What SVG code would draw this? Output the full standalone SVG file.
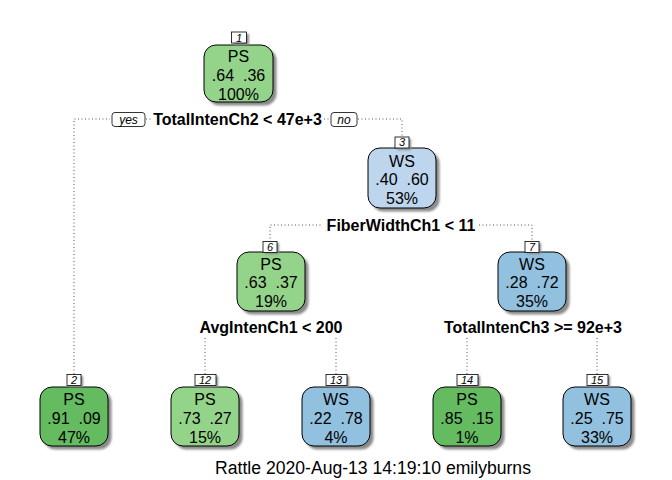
<svg xmlns="http://www.w3.org/2000/svg" width="672" height="480" viewBox="0 0 672 480">
<defs>
<filter id="blur" x="-20%" y="-20%" width="140%" height="140%"><feGaussianBlur stdDeviation="1.2"/></filter>
<style>
.box{stroke:#000;stroke-width:1}
.g1{fill:#94D48A}.g2{fill:#64BB60}.b1{fill:#BED5EE}.b2{fill:#92C0DF}
.sh{fill:#8a8a8a;filter:url(#blur)}
.t{font-family:"Liberation Sans",Arial,sans-serif;font-size:16px;fill:#000;text-anchor:middle}
.num{font-family:"Liberation Sans",Arial,sans-serif;font-size:11px;font-style:italic;fill:#000;text-anchor:middle}
.nb{fill:#fff;stroke:#000;stroke-width:0.8}
.split{font-family:"Liberation Sans",Arial,sans-serif;font-size:16px;font-weight:bold;fill:#000;text-anchor:middle}
.yn{font-family:"Liberation Sans",Arial,sans-serif;font-size:12px;font-style:italic;fill:#000;text-anchor:middle}
.ln{fill:none;stroke:#555;stroke-width:1;stroke-dasharray:1 2.5}
.cap{font-family:"Liberation Sans",Arial,sans-serif;font-size:17.6px;fill:#000;text-anchor:middle}
</style>
</defs>
<rect width="672" height="480" fill="#fff"/>

<g id="connectors">
<path class="ln" d="M74,374 V119 H110"/>
<path class="ln" d="M146,119 H151"/>
<path class="ln" d="M324,119 H330"/>
<path class="ln" d="M358,119 H402 V137"/>
<path class="ln" d="M270,242 V225 H323"/>
<path class="ln" d="M479,225 H532 V242"/>
<path class="ln" d="M205,338 V375"/>
<path class="ln" d="M336,338 V375"/>
<path class="ln" d="M467,338 V375"/>
<path class="ln" d="M597,338 V375"/>
</g>

<g id="splits">
<rect class="nb" x="112" y="112.5" width="33" height="14" rx="3"/>
<text class="yn" x="128.5" y="123.5">yes</text>
<text class="split" x="237.5" y="125">TotalIntenCh2 &lt; 47e+3</text>
<rect class="nb" x="331" y="112.5" width="26" height="14" rx="3"/>
<text class="yn" x="344" y="123.5">no</text>
<text class="split" x="401" y="231">FiberWidthCh1 &lt; 11</text>
<text class="split" x="271" y="333">AvgIntenCh1 &lt; 200</text>
<text class="split" x="533" y="333">TotalIntenCh3 &gt;= 92e+3</text>
</g>

<g id="node1">
<rect class="sh" x="207.5" y="48.5" width="69" height="57" rx="12"/>
<rect class="box g1" x="204" y="45" width="69" height="57" rx="12"/>
<rect class="sh" x="234" y="34" width="15" height="11"/>
<rect class="nb" x="231.5" y="32" width="15" height="11"/>
<text class="num" x="239" y="41.5">1</text>
<text class="t" x="238.5" y="62">PS</text>
<text class="t" x="238.5" y="81" xml:space="preserve">.64  .36</text>
<text class="t" x="238.5" y="100">100%</text>
</g>

<g id="node2">
<rect class="sh" x="43.5" y="390.5" width="68" height="59" rx="12"/>
<rect class="box g2" x="40" y="387" width="68" height="59" rx="12"/>
<rect class="sh" x="69" y="376" width="14" height="11"/>
<rect class="nb" x="67" y="374.5" width="14" height="11"/>
<text class="num" x="74" y="384">2</text>
<text class="t" x="74" y="405">PS</text>
<text class="t" x="74" y="424" xml:space="preserve">.91  .09</text>
<text class="t" x="74" y="443">47%</text>
</g>

<g id="node3">
<rect class="sh" x="371.5" y="151.5" width="68" height="60" rx="12"/>
<rect class="box b1" x="368" y="148" width="68" height="60" rx="12"/>
<rect class="sh" x="397" y="139" width="14" height="11"/>
<rect class="nb" x="395" y="137" width="14" height="11"/>
<text class="num" x="402" y="146">3</text>
<text class="t" x="402" y="167">WS</text>
<text class="t" x="402" y="185" xml:space="preserve">.40  .60</text>
<text class="t" x="402" y="204">53%</text>
</g>

<g id="node6">
<rect class="sh" x="240.5" y="255.5" width="68" height="59" rx="12"/>
<rect class="box g1" x="237" y="252" width="68" height="59" rx="12"/>
<rect class="sh" x="265" y="243" width="14" height="11"/>
<rect class="nb" x="263" y="241.5" width="14" height="11"/>
<text class="num" x="270" y="251">6</text>
<text class="t" x="271" y="270">PS</text>
<text class="t" x="271" y="288" xml:space="preserve">.63  .37</text>
<text class="t" x="271" y="307">19%</text>
</g>

<g id="node7">
<rect class="sh" x="501.5" y="255.5" width="68" height="59" rx="12"/>
<rect class="box b2" x="498" y="252" width="68" height="59" rx="12"/>
<rect class="sh" x="527" y="243" width="14" height="11"/>
<rect class="nb" x="525" y="241.5" width="14" height="11"/>
<text class="num" x="532" y="251">7</text>
<text class="t" x="532" y="270">WS</text>
<text class="t" x="532" y="288" xml:space="preserve">.28  .72</text>
<text class="t" x="532" y="307">35%</text>
</g>

<g id="node12">
<rect class="sh" x="174.5" y="390.5" width="68" height="59" rx="12"/>
<rect class="box g1" x="171" y="387" width="68" height="59" rx="12"/>
<rect class="sh" x="197" y="376" width="21" height="11"/>
<rect class="nb" x="195" y="374.5" width="21" height="11"/>
<text class="num" x="205" y="384">12</text>
<text class="t" x="205" y="405">PS</text>
<text class="t" x="205" y="424" xml:space="preserve">.73  .27</text>
<text class="t" x="205" y="443">15%</text>
</g>

<g id="node13">
<rect class="sh" x="305.5" y="390.5" width="68" height="59" rx="12"/>
<rect class="box b2" x="302" y="387" width="68" height="59" rx="12"/>
<rect class="sh" x="328" y="376" width="21" height="11"/>
<rect class="nb" x="326" y="374.5" width="21" height="11"/>
<text class="num" x="336" y="384">13</text>
<text class="t" x="336" y="405">WS</text>
<text class="t" x="336" y="424" xml:space="preserve">.22  .78</text>
<text class="t" x="336" y="443">4%</text>
</g>

<g id="node14">
<rect class="sh" x="436.5" y="390.5" width="68" height="59" rx="12"/>
<rect class="box g2" x="433" y="387" width="68" height="59" rx="12"/>
<rect class="sh" x="459" y="376" width="21" height="11"/>
<rect class="nb" x="457" y="374.5" width="21" height="11"/>
<text class="num" x="467" y="384">14</text>
<text class="t" x="467" y="405">PS</text>
<text class="t" x="467" y="424" xml:space="preserve">.85  .15</text>
<text class="t" x="467" y="443">1%</text>
</g>

<g id="node15">
<rect class="sh" x="566.5" y="390.5" width="68" height="59" rx="12"/>
<rect class="box b2" x="563" y="387" width="68" height="59" rx="12"/>
<rect class="sh" x="589" y="376" width="21" height="11"/>
<rect class="nb" x="587" y="374.5" width="21" height="11"/>
<text class="num" x="597" y="384">15</text>
<text class="t" x="597" y="405">WS</text>
<text class="t" x="597" y="424" xml:space="preserve">.25  .75</text>
<text class="t" x="597" y="443">33%</text>
</g>

<text class="cap" x="373" y="474">Rattle 2020-Aug-13 14:19:10 emilyburns</text>
</svg>
